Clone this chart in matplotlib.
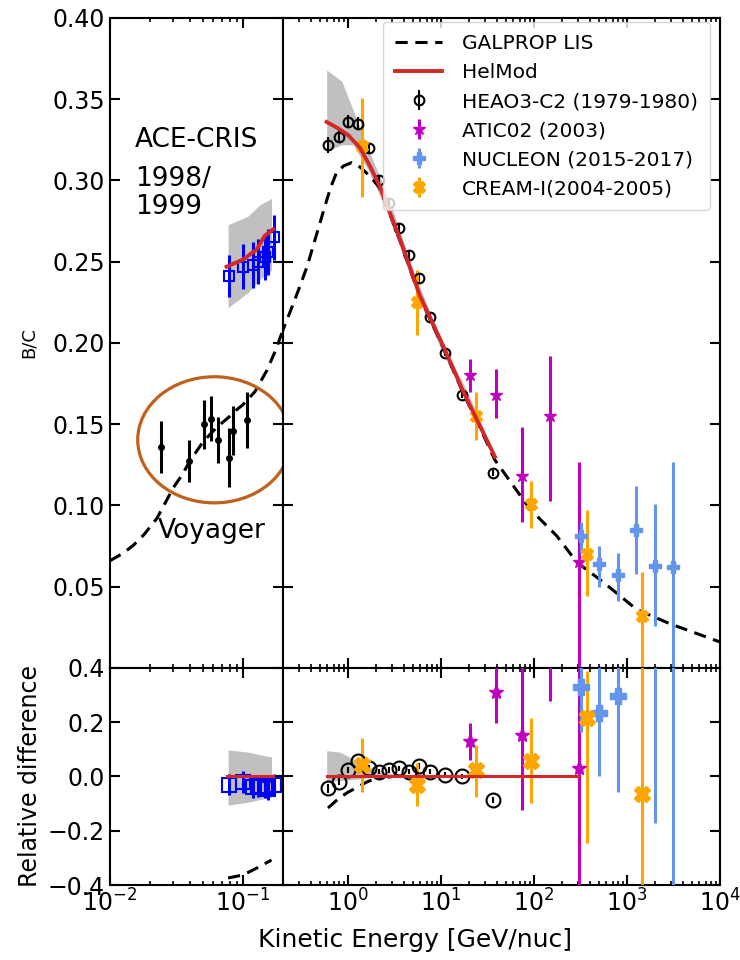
import matplotlib
matplotlib.use('Agg')
import matplotlib.pyplot as plt
from matplotlib.patches import Ellipse
from matplotlib.ticker import LogLocator, NullFormatter
import numpy as np

# GALPROP LIS (same curve drawn in both panels, each panel clips it)
lis_e = [0.01, 0.0125, 0.015, 0.018, 0.0225, 0.026, 0.03, 0.035, 0.04, 0.05, 0.06,
         0.07, 0.08, 0.09, 0.1, 0.123, 0.151, 0.175, 0.2,
         0.238, 0.3, 0.363, 0.45, 0.55, 0.65, 0.755, 0.9, 1.1, 1.3, 1.52, 2.03,
         2.21, 3.62, 5.94, 10.6, 17.4, 26.2, 38, 90, 175, 290, 556, 1270, 2900, 1e4]
lis_bc = [0.066, 0.0705, 0.0755, 0.082, 0.092, 0.1015, 0.111, 0.119, 0.1275, 0.139, 0.146,
          0.151, 0.155, 0.159, 0.162, 0.170, 0.183, 0.195, 0.208,
          0.219, 0.234, 0.247, 0.265, 0.282, 0.2955, 0.305, 0.309, 0.311, 0.309, 0.3056, 0.298,
          0.295, 0.263, 0.228, 0.197, 0.169, 0.148, 0.128, 0.098, 0.0814, 0.065, 0.0528,
          0.036, 0.0272, 0.016]
lis_rel_e_lo = [0.0773, 0.1, 0.13, 0.164]
lis_rel_lo = [-0.374, -0.363, -0.335, -0.308]
lis_rel_e_hi = [0.61, 0.8, 1.0, 1.3, 1.6, 2.0, 2.5]
lis_rel_hi = [-0.116, -0.08, -0.058, -0.037, -0.02, -0.007, 0.0]

# HelMod
hel_e_lo = [0.0753, 0.1004, 0.1267, 0.146, 0.169]
hel_bc_lo = [0.2469, 0.2514, 0.2575, 0.266, 0.270]
hel_e_hi = [0.59, 0.787, 1.0, 1.35, 1.72, 2.21, 3.62, 5.94, 10.6, 17.4, 26.2, 38]
hel_bc_hi = [0.336, 0.332, 0.328, 0.320, 0.309, 0.296, 0.264, 0.229, 0.198, 0.170, 0.149, 0.130]
hel_rel_e_hi = [0.59, 305]

# HelMod uncertainty bands
band_e_lo = [0.0773, 0.109, 0.134, 0.164]
band_hi_lo = [0.2728, 0.278, 0.285, 0.289]
band_lo_lo = [0.2217, 0.231, 0.239, 0.245]
band_e_hi = [0.59, 0.86, 1.14, 1.66, 2.72, 5.0, 10.0, 20.0, 38.0]
band_hi_hi = [0.368, 0.361, 0.343, 0.319, 0.290, 0.245, 0.202, 0.168, 0.131]
band_lo_hi = [0.318, 0.322, 0.322, 0.306, 0.279, 0.237, 0.196, 0.163, 0.128]
rband_hi_lo = [0.098, 0.09, 0.08, 0.072]
rband_lo_lo = [-0.105, -0.095, -0.085, -0.076]
rband_e_hi = [0.59, 0.82, 1.2, 1.66, 2.05, 3.0]
rband_hi_hi = [0.095, 0.09, 0.06, 0.035, 0.024, 0.01]
rband_lo_hi = [-0.02, -0.015, -0.01, -0.005, 0.0, 0.0]

# ACE-CRIS 1998/1999
ace_e = [0.0785, 0.100, 0.119, 0.130, 0.146, 0.154, 0.171]
ace_bc = [0.241, 0.247, 0.248, 0.250, 0.253, 0.256, 0.265]
ace_err = [0.013, 0.014, 0.014, 0.014, 0.014, 0.014, 0.014]
ace_rel = [-0.03, -0.02, -0.04, -0.035, -0.04, -0.045, -0.03]
ace_rel_err = [0.04, 0.04, 0.04, 0.04, 0.04, 0.04, 0.04]

# Voyager
voy_e = [0.024, 0.0394, 0.0512, 0.0574, 0.065, 0.0789, 0.0836, 0.1066]
voy_bc = [0.1357, 0.1275, 0.150, 0.1535, 0.1404, 0.1295, 0.146, 0.1526]
voy_err = [0.016, 0.013, 0.015, 0.014, 0.014, 0.018, 0.015, 0.017]

# HEAO3-C2
heao_e = [0.61, 0.80, 1.0, 1.29, 1.68, 2.16, 2.76, 3.5, 4.55, 5.8, 7.6, 11, 16.8, 36]
heao_bc = [0.322, 0.327, 0.336, 0.335, 0.320, 0.300, 0.286, 0.271, 0.254, 0.240,
           0.216, 0.194, 0.168, 0.120]
heao_err = [0.005, 0.004, 0.004, 0.004, 0.003, 0.003, 0.003, 0.003, 0.003, 0.003,
            0.003, 0.002, 0.002, 0.002]
heao_rel = [-0.044, -0.019, 0.024, 0.058, 0.031, 0.018, 0.024, 0.030, 0.018, 0.039,
            0.018, 0.006, 0.0, -0.087]
heao_rel_err = [0.015, 0.012, 0.012, 0.012, 0.01, 0.01, 0.01, 0.01, 0.01, 0.01,
                0.01, 0.01, 0.01, 0.012]

# ATIC02 (2003)
atic_e = [20.6, 39, 74.6, 148, 305]
atic_bc = [0.180, 0.168, 0.118, 0.155, 0.065]
atic_up = [0.010, 0.016, 0.030, 0.037, 0.062]
atic_dn = [0.010, 0.014, 0.028, 0.052, 0.07]
atic_rel = [0.13, 0.31, 0.153, 0.85, 0.031]
atic_rel_up = [0.067, 0.10, 0.30, 0.5, 1.0]
atic_rel_dn = [0.07, 0.113, 0.276, 0.57, 1.0]

# NUCLEON (2015-2017)
nuc_e = [323, 500, 800, 1260, 2000, 3150]
nuc_bc = [0.081, 0.064, 0.057, 0.085, 0.063, 0.062]
nuc_up = [0.009, 0.011, 0.014, 0.027, 0.038, 0.065]
nuc_dn = [0.010, 0.014, 0.016, 0.027, 0.037, 0.07]
nuc_rel = [0.33, 0.234, 0.295, 1.36, 1.03, 1.2]
nuc_rel_up = [0.2, 0.2, 0.2, 0.5, 0.5, 0.5]
nuc_rel_dn = [0.165, 0.234, 0.352, 0.75, 1.2, 2.0]

# CREAM-I (2004-2005)
cream_e = [1.41, 5.5, 24, 93, 370, 1450]
cream_bc = [0.321, 0.225, 0.155, 0.101, 0.070, 0.032]
cream_up = [0.030, 0.020, 0.015, 0.014, 0.027, 0.027]
cream_dn = [0.031, 0.020, 0.015, 0.015, 0.026, 0.04]
cream_rel = [0.042, -0.03, 0.024, 0.057, 0.215, -0.065]
cream_rel_up = [0.10, 0.08, 0.092, 0.158, 0.175, 1.0]
cream_rel_dn = [0.10, 0.08, 0.099, 0.155, 0.46, 1.0]

fig = plt.figure(figsize=(7.4, 9.6), dpi=100)
ax_tl = fig.add_axes([0.1486, 0.3042, 0.2338, 0.6771])
ax_tr = fig.add_axes([0.3824, 0.3042, 0.5905, 0.6771])
ax_bl = fig.add_axes([0.1486, 0.0781, 0.2338, 0.2261])
ax_br = fig.add_axes([0.3824, 0.0781, 0.5905, 0.2261])

for ax in [ax_tl, ax_tr, ax_bl, ax_br]:
    ax.set_xscale('log')
    ax.xaxis.set_major_locator(LogLocator(base=10, numticks=15))
    ax.xaxis.set_minor_locator(LogLocator(base=10, subs=np.arange(2, 10), numticks=15))
    ax.xaxis.set_minor_formatter(NullFormatter())
    ax.tick_params(which='both', direction='in', top=True, right=True, labelsize=17)
    ax.tick_params(which='major', length=7, width=1.5)
    ax.tick_params(which='minor', length=3, width=1.2)
    for s in ax.spines.values():
        s.set_linewidth(1.5)

for ax in [ax_tl, ax_bl]:
    ax.set_xlim(0.01, 0.2)
for ax in [ax_tr, ax_br]:
    ax.set_xlim(0.2, 1e4)
    ax.tick_params(labelleft=False)
for ax in [ax_tl, ax_tr]:
    ax.set_ylim(0.0, 0.4)
    ax.set_yticks([0.05, 0.10, 0.15, 0.20, 0.25, 0.30, 0.35, 0.40])
    ax.tick_params(labelbottom=False)
for ax in [ax_bl, ax_br]:
    ax.set_ylim(-0.4, 0.4)
    ax.set_yticks([-0.4, -0.2, 0.0, 0.2, 0.4])

ax_tl.set_yticklabels(['0.05', '0.10', '0.15', '0.20', '0.25', '0.30', '0.35', '0.40'])
ax_bl.set_yticklabels(['\u22120.4', '\u22120.2', '0.0', '0.2', '0.4'])

ebkw = dict(ls='none', capsize=0, elinewidth=2.2)
red = '#d62728'

# ---- top left
ax_tl.fill_between(band_e_lo, band_lo_lo, band_hi_lo, color='silver', lw=0, zorder=1)
ax_tl.plot(lis_e, lis_bc, 'k--', lw=2.2, dashes=(4, 2.5), zorder=2)
ax_tl.errorbar(ace_e, ace_bc, yerr=ace_err, fmt='s', color='blue', mfc='none',
               ms=7, mew=1.5, **ebkw, zorder=3)
ax_tl.plot(hel_e_lo, hel_bc_lo, color=red, lw=2.8, zorder=4)
ax_tl.errorbar(voy_e, voy_bc, yerr=voy_err, fmt='o', color='k', ms=4, **ebkw, zorder=3)
ax_tl.text(0.145, 0.833, 'ACE-CRIS', transform=ax_tl.transAxes, fontsize=19, va='top')
ax_tl.text(0.145, 0.772, '1998/\n1999', transform=ax_tl.transAxes, fontsize=19,
           va='top', linespacing=1.1)
ax_tl.text(0.277, 0.2, 'Voyager', transform=ax_tl.transAxes, fontsize=19, va='baseline')
ax_tl.add_patch(Ellipse((0.603, 0.351), 0.885, 0.194, transform=ax_tl.transAxes,
                        fill=False, ec='#c0601a', lw=2.3, clip_on=False, zorder=5))
ax_tl.set_ylabel('B/C', fontsize=13)
ax_tl.yaxis.set_label_coords(-0.415, 0.5)

# ---- top right
ax_tr.fill_between(band_e_hi, band_lo_hi, band_hi_hi, color='silver', lw=0, zorder=1)
h_lis, = ax_tr.plot(lis_e, lis_bc, 'k--', lw=2.2, dashes=(4, 2.5), zorder=2)
h_heao = ax_tr.errorbar(heao_e, heao_bc, yerr=heao_err, fmt='o', color='k', mfc='none',
                        ms=7, mew=1.5, ls='none', capsize=0, elinewidth=1.5, zorder=3)
h_atic = ax_tr.errorbar(atic_e, atic_bc, yerr=[atic_dn, atic_up], fmt='*', color='m',
                        ms=9, **ebkw, zorder=3)
h_nuc = ax_tr.errorbar(nuc_e, nuc_bc, yerr=[nuc_dn, nuc_up], fmt='P', color='cornflowerblue',
                       ms=9, **ebkw, zorder=3)
h_cream = ax_tr.errorbar(cream_e, cream_bc, yerr=[cream_dn, cream_up], fmt='X', color='orange',
                         ms=9, **ebkw, zorder=3)
h_hel, = ax_tr.plot(hel_e_hi, hel_bc_hi, color=red, lw=2.8, zorder=4)
ax_tr.legend([h_lis, h_hel, h_heao, h_atic, h_nuc, h_cream],
             ['GALPROP LIS', 'HelMod', 'HEAO3-C2 (1979-1980)', 'ATIC02 (2003)',
              'NUCLEON (2015-2017)', 'CREAM-I(2004-2005)'],
             loc='upper right', bbox_to_anchor=(0.977, 0.994), borderaxespad=0,
             fontsize=14.5, borderpad=0.6, handlelength=2.3, handletextpad=1.0,
             labelspacing=0.5, framealpha=0.8)

# ---- bottom left
ax_bl.fill_between(band_e_lo, rband_lo_lo, rband_hi_lo, color='silver', lw=0, zorder=1)
ax_bl.plot(lis_rel_e_lo, lis_rel_lo, 'k--', lw=2.2, dashes=(4, 2.5), zorder=2)
ax_bl.errorbar(ace_e, ace_rel, yerr=ace_rel_err, fmt='s', color='blue', mfc='none',
               ms=10, mew=1.5, **ebkw, zorder=3)
ax_bl.plot([hel_e_lo[0], hel_e_lo[-1]], [0, 0], color=red, lw=2.2, zorder=4)
ax_bl.set_ylabel('Relative difference', fontsize=17)

# ---- bottom right
ax_br.fill_between(rband_e_hi, rband_lo_hi, rband_hi_hi, color='silver', lw=0, zorder=1)
ax_br.plot(lis_rel_e_hi, lis_rel_hi, 'k--', lw=2.2, dashes=(4, 2.5), zorder=2)
ax_br.errorbar(heao_e, heao_rel, yerr=heao_rel_err, fmt='o', color='k', mfc='none',
               ms=10, mew=1.5, ls='none', capsize=0, elinewidth=1.5, zorder=3)
ax_br.errorbar(atic_e, atic_rel, yerr=[atic_rel_dn, atic_rel_up], fmt='*', color='m',
               ms=11, **ebkw, zorder=3)
ax_br.errorbar(nuc_e, nuc_rel, yerr=[nuc_rel_dn, nuc_rel_up], fmt='P', color='cornflowerblue',
               ms=11, **ebkw, zorder=3)
ax_br.errorbar(cream_e, cream_rel, yerr=[cream_rel_dn, cream_rel_up], fmt='X', color='orange',
               ms=11, **ebkw, zorder=3)
ax_br.plot(hel_rel_e_hi, [0, 0], color=red, lw=2.2, zorder=4)

fig.text(0.561, 0.021, 'Kinetic Energy [GeV/nuc]', fontsize=18, ha='center', va='center')

fig.savefig('out.png', dpi=100)
